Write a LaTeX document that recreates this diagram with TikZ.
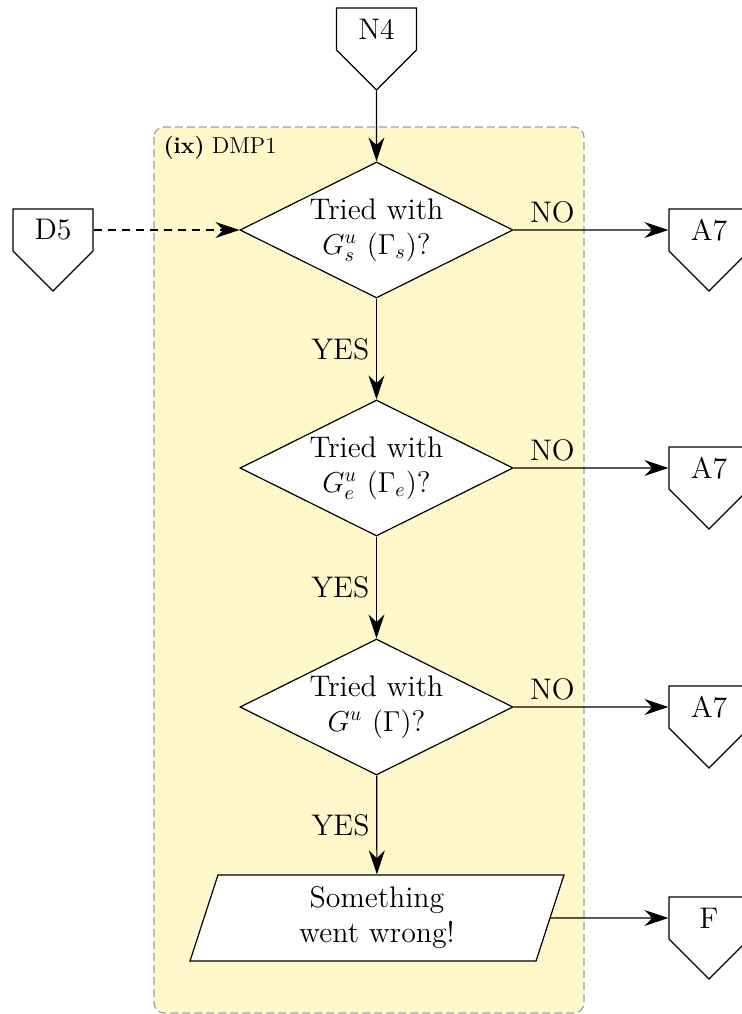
\documentclass[tikz,border=0pt]{standalone}
\usepackage{amsmath}
\usepackage{tikz}
\usetikzlibrary{shapes.geometric,shapes.symbols,arrows.meta}

\definecolor{dmpfill}{RGB}{254,248,202}
\definecolor{dmpline}{RGB}{160,160,160}

\tikzset{
  offpage/.style={signal, signal to=south, signal pointer angle=90, draw, fill=white,
    text width=40pt, align=center, minimum height=41pt, inner sep=0pt},
  decision/.style={diamond, draw, fill=white, aspect=2, minimum width=136.5pt,
    minimum height=68pt, inner sep=0pt, align=center},
  iobox/.style={trapezium, trapezium left angle=72, trapezium right angle=108,
    trapezium stretches body=true, draw, fill=white, minimum width=187pt,
    minimum height=42.5pt, inner xsep=0pt, inner ysep=6pt, align=center},
  flow/.style={-{Stealth[length=12pt,width=8pt]}},
}

\begin{document}
\begin{tikzpicture}[x=0.5pt,y=-0.5pt,line width=0.6pt,
  font=\fontsize{14.9}{17.5}\selectfont] % pixel grid
\useasboundingbox (0,0) rectangle (742,1014);
%background
\draw [dmpline, fill=dmpfill, dash pattern=on 4pt off 2pt, rounded corners=5pt]
  (154,127) rectangle (584,1013);
\node [anchor=base west, inner sep=0pt, font=\fontsize{11.5}{13}\selectfont] (title)
  at (163,153) {\textbf{(ix)} DMP1};
%connectors in/out
\node [offpage] (n4) at (376.5,29) {N4};
\node [offpage] (d5) at (53,230) {D5};
\node [offpage] (a7s) at (709,230) {A7};
\node [offpage] (a7e) at (709,468) {A7};
\node [offpage] (a7g) at (709,707) {A7};
\node [offpage] (fail) at (709,918) {F};
%questions
\node [decision] (qs) at (376.5,230) {Tried with\\ $G^u_s\ (\Gamma_s)$?};
\node [decision] (qe) at (376.5,468) {Tried with\\ $G^u_e\ (\Gamma_e)$?};
\node [decision] (qg) at (376.5,707) {Tried with\\ $G^u\ (\Gamma)$?};
\node [iobox] (wrong) at (377,918) {Something\\ went wrong!};
%arrows
\draw [flow] (n4) -- (qs);
\draw [flow, dash pattern=on 4pt off 3pt] (d5.east) -- (qs.west);
\draw [flow] (qs) -- node [left] {YES} (qe);
\draw [flow] (qe) -- node [left] {YES} (qg);
\draw [flow] (qg) -- node [left] {YES} (wrong);
\draw [flow] (qs.east) -- node [above, pos=0.25] {NO} (a7s);
\draw [flow] (qe.east) -- node [above, pos=0.25] {NO} (a7e);
\draw [flow] (qg.east) -- node [above, pos=0.25] {NO} (a7g);
\draw [flow] (wrong.east) -- (fail.west);
\end{tikzpicture}
\end{document}
